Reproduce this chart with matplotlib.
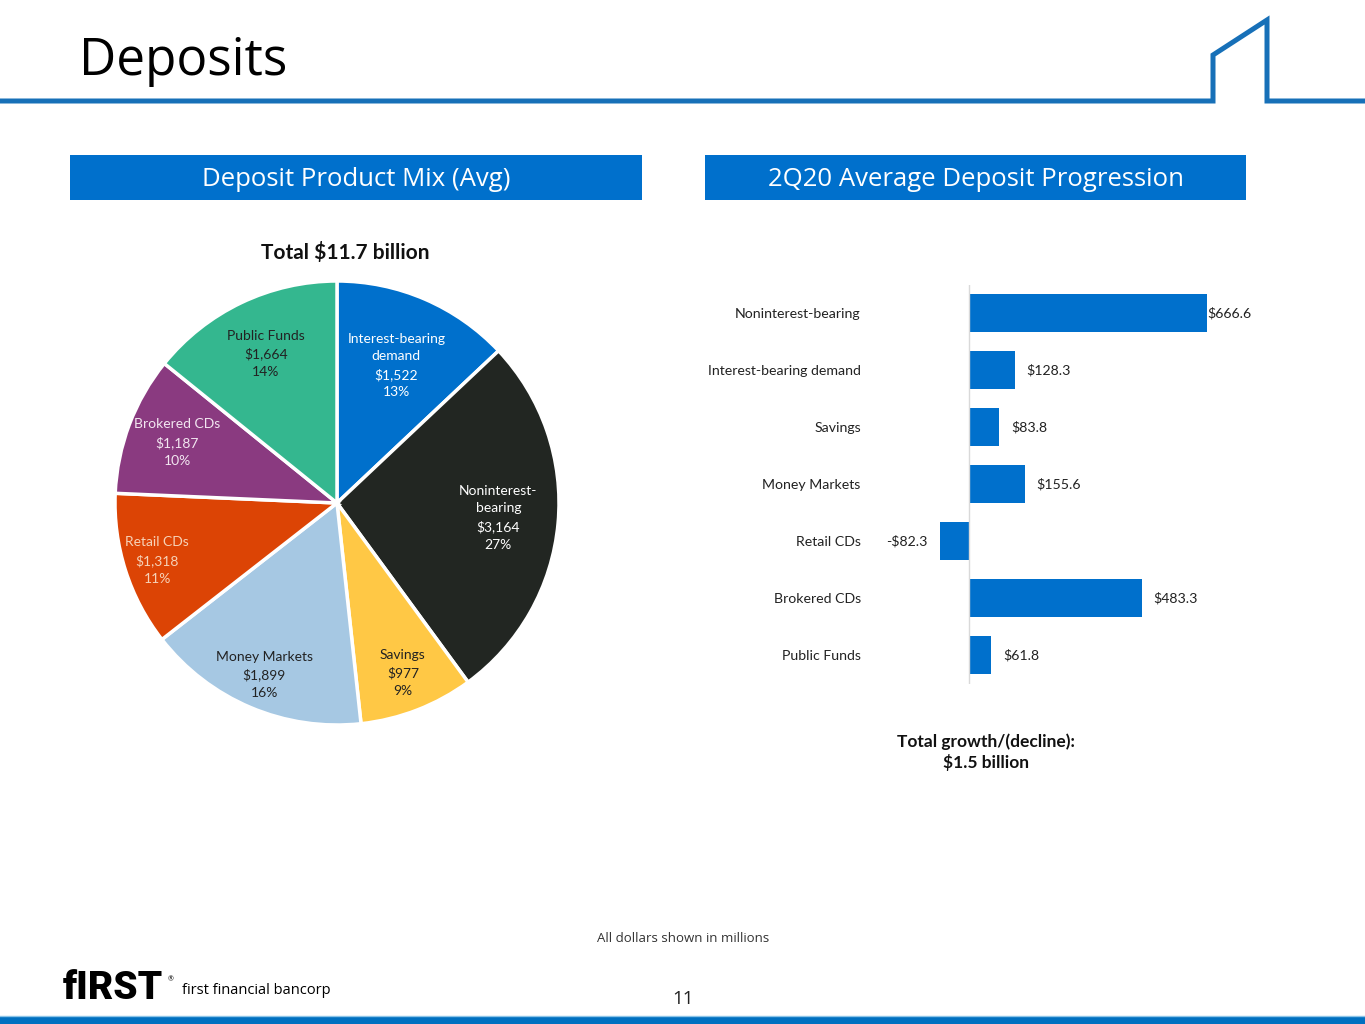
import numpy as np
import matplotlib
matplotlib.use('Agg')
import matplotlib.pyplot as plt
from matplotlib.patches import Rectangle

plt.rcParams['font.family'] = ['Lato', 'DejaVu Sans']

# --- data -------------------------------------------------------------
mix_labels = ['Interest-bearing\ndemand', 'Noninterest-\nbearing', 'Savings',
              'Money Markets', 'Retail CDs', 'Brokered CDs', 'Public Funds']
mix_values = [1522, 3164, 977, 1899, 1318, 1187, 1664]
mix_pct = ['13%', '27%', '9%', '16%', '11%', '10%', '14%']
mix_colors = ['#0070CC', '#222622', '#FFC845', '#A6C8E3', '#DC4405', '#8A3A80', '#34B78F']
mix_text = ['white', 'white', '#222222', '#222222', '#F6D2B8', '#F2E6F0', '#222222']
mix_dist = [0.675, 0.73, 0.82, 0.84, 0.85, 0.77, 0.745]

prog_labels = ['Noninterest-bearing', 'Interest-bearing demand', 'Savings',
               'Money Markets', 'Retail CDs', 'Brokered CDs', 'Public Funds']
prog_values = [666.6, 128.3, 83.8, 155.6, -82.3, 483.3, 61.8]

BLUE = '#0070CC'
W, H = 1365, 1024

fig = plt.figure(figsize=(W / 100, H / 100), dpi=100)


def frac(x0, y0, x1, y1):
    # pixel box (top-left origin) -> figure fraction rect
    return [x0 / W, 1 - y1 / H, (x1 - x0) / W, (y1 - y0) / H]


# --- page decoration ---------------------------------------------------
bg = fig.add_axes([0, 0, 1, 1])
bg.set_xlim(0, W)
bg.set_ylim(H, 0)
bg.axis('off')

bg.text(79, 75, 'Deposits', fontsize=37, family=['Open Sans', 'DejaVu Sans'],
        color='black', va='baseline', ha='left')
bg.plot([0, 1213, 1213, 1267, 1267, W], [101, 101, 55, 20, 101, 101],
        color='#1770B8', lw=3.6, solid_joinstyle='miter', solid_capstyle='butt')

for (x0, x1, title) in [(70, 642, 'Deposit Product Mix (Avg)'),
                        (705, 1246, '2Q20 Average Deposit Progression')]:
    bg.add_patch(Rectangle((x0, 155), x1 - x0, 45, color=BLUE, lw=0))
    bg.text((x0 + x1) / 2, 179, title, color='white', fontsize=18.5,
            family=['Open Sans', 'DejaVu Sans'], ha='center', va='center')

bg.text(345, 252, 'Total $11.7 billion', fontsize=15, fontweight='bold',
        ha='center', va='center', color='#111111')
bg.text(986, 752, 'Total growth/(decline):\n$1.5 billion', fontsize=12.5,
        fontweight='bold', ha='center', va='center', linespacing=1.3,
        color='#111111')
bg.text(683, 939, 'All dollars shown in millions', fontsize=9.5,
        family=['Open Sans', 'DejaVu Sans'], ha='center', va='center',
        color='#333333')

bg.text(63, 999, 'fIRST', fontsize=28, fontweight='heavy', ha='left',
        va='baseline', color='black', family=['Roboto', 'DejaVu Sans'])
bg.text(168, 979, '®', fontsize=5, ha='left', va='center', color='black')
bg.text(182, 990, 'first financial bancorp', fontsize=10.5, ha='left',
        va='center', color='black', family=['Open Sans', 'DejaVu Sans'])
bg.text(683, 999, '11', fontsize=13.5, ha='center', va='center',
        color='#222222', family=['Open Sans', 'DejaVu Sans'])

bg.add_patch(Rectangle((0, 1016), W, 8, color='#0070C0', lw=0))
bg.plot([0, W], [1016, 1016], color='#8CC4E8', lw=1)

# --- pie ---------------------------------------------------------------
cx, cy, R = 337, 503, 222
pax = fig.add_axes(frac(cx - R, cy - R, cx + R, cy + R))
wedges, _ = pax.pie(mix_values, colors=mix_colors, startangle=90,
                    counterclock=False, radius=1,
                    wedgeprops=dict(edgecolor='white', linewidth=2.5))
pax.set_xlim(-1, 1)
pax.set_ylim(-1, 1)
pax.set_aspect('equal')

for w, lab, val, pct, tc, d in zip(wedges, mix_labels, mix_values, mix_pct,
                                   mix_text, mix_dist):
    ang = np.deg2rad((w.theta1 + w.theta2) / 2)
    pax.text(d * np.cos(ang), d * np.sin(ang),
             '%s\n$%s\n%s' % (lab, format(val, ','), pct),
             ha='center', va='center', fontsize=10, color=tc,
             linespacing=1.55)

# --- bar chart ---------------------------------------------------------
zero_px, scale = 969, 238 / 666.6   # px per $mm
ax0, ax1 = 867, 1260
bax = fig.add_axes(frac(ax0, 284.5, ax1, 683.5))
bax.set_xlim((ax0 - zero_px) / scale, (ax1 - zero_px) / scale)
ypos = np.arange(len(prog_values))
bax.barh(ypos, prog_values, height=0.65, color=BLUE)
bax.set_ylim(len(prog_values) - 0.5, -0.5)
bax.axvline(0, color='#D9D9D9', lw=1)
bax.set_yticks(ypos)
bax.set_yticklabels(prog_labels, fontsize=10.2, color='#222222')
bax.tick_params(axis='y', length=0, pad=4.5)
bax.set_xticks([])
for s in bax.spines.values():
    s.set_visible(False)

off = 12 / scale
for y, v in zip(ypos, prog_values):
    txt = ('-$%.1f' % -v) if v < 0 else ('$%.1f' % v)
    if v < 0:
        bax.text(v - off, y, txt, ha='right', va='center', fontsize=10.2,
                 color='#222222')
    elif v == max(prog_values):
        bax.text(v, y, txt, ha='left', va='center', fontsize=10.2,
                 color='#222222')
    else:
        bax.text(v + off, y, txt, ha='left', va='center', fontsize=10.2,
                 color='#222222')

fig.savefig('out.png', dpi=100)
